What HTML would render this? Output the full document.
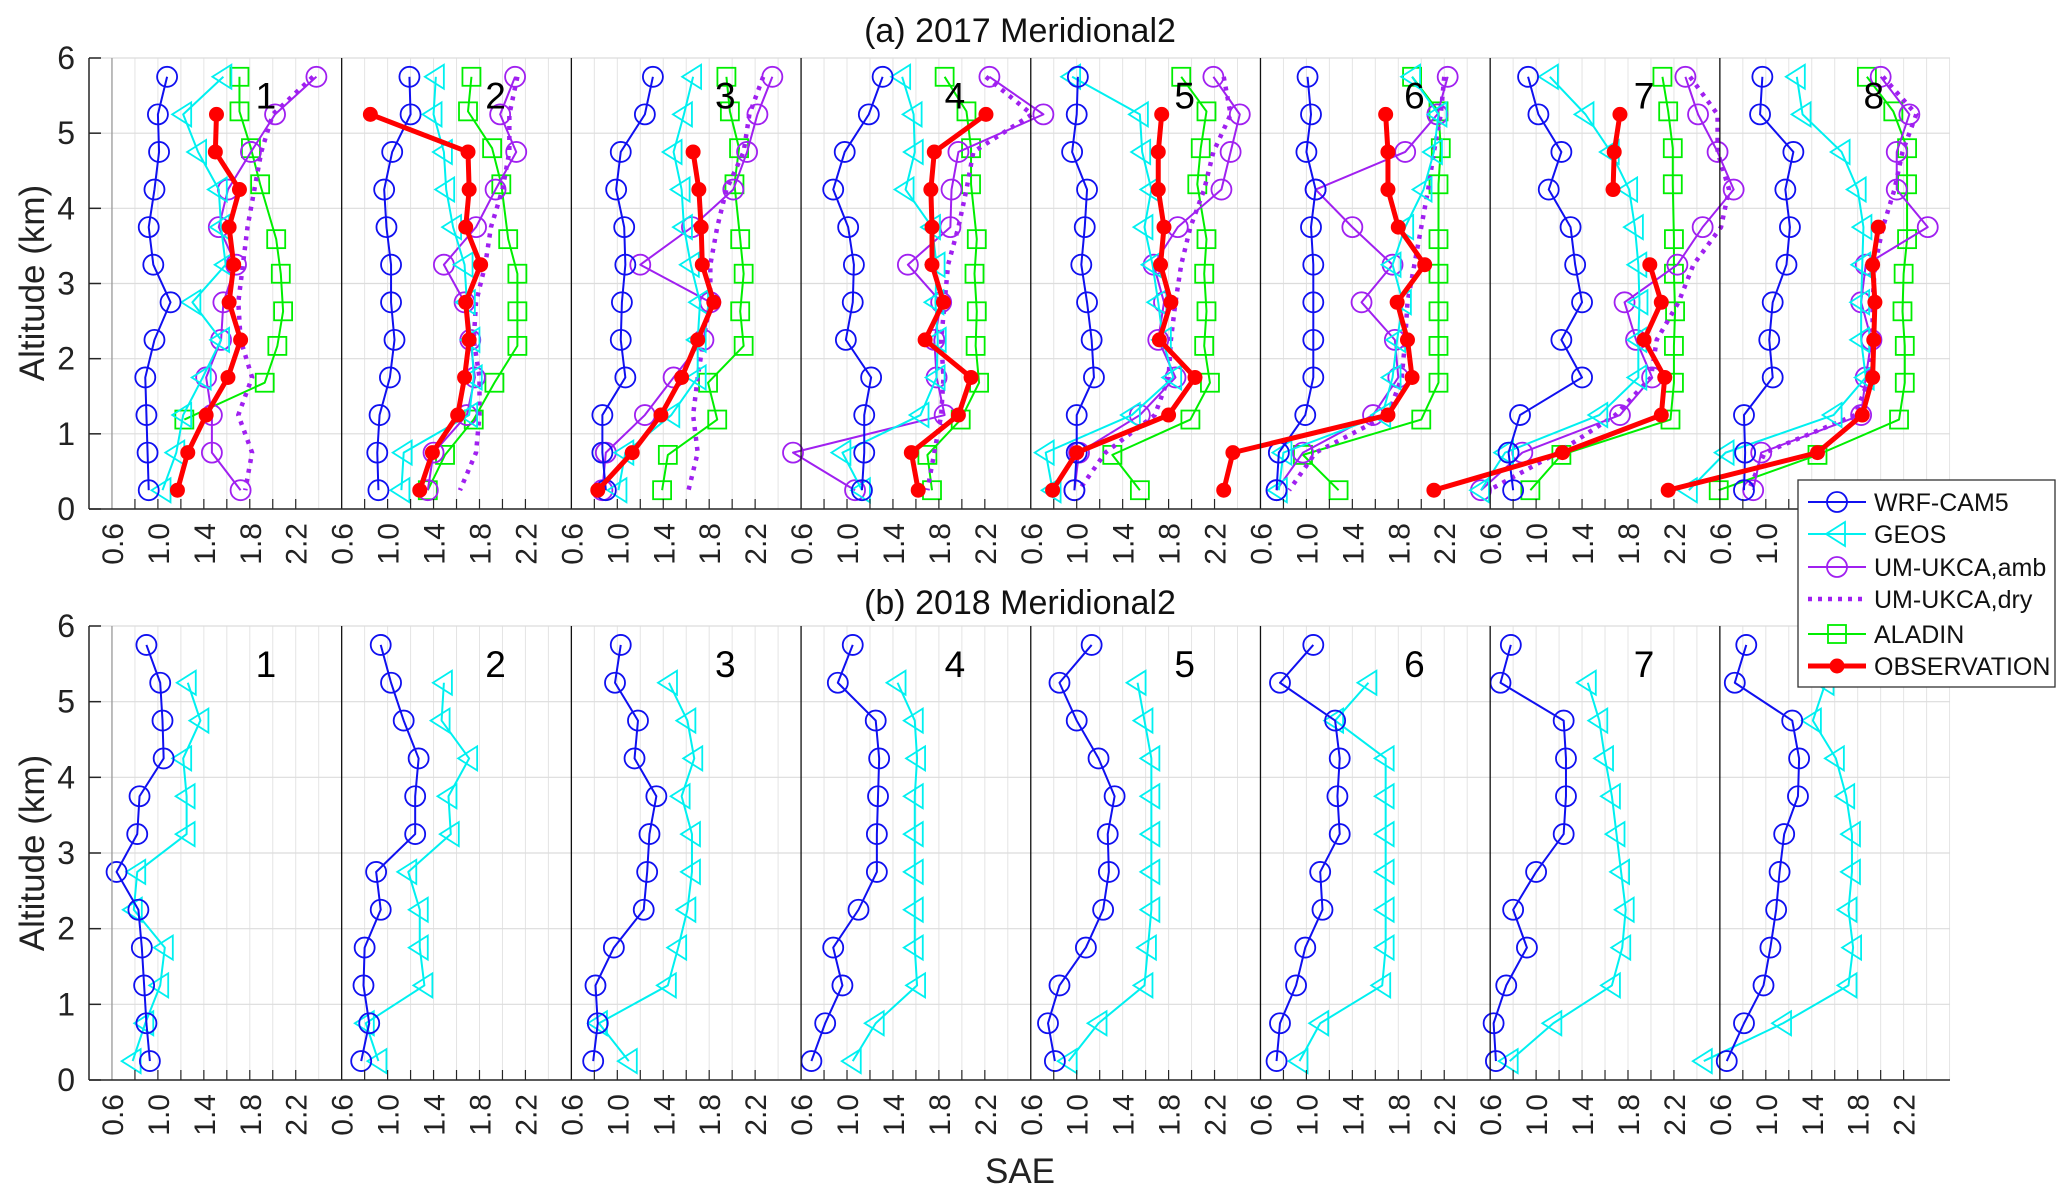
<!DOCTYPE html>
<html><head><meta charset="utf-8"><title>SAE profiles</title>
<style>
html,body{margin:0;padding:0;background:#fff;}
svg{display:block;font-family:"Liberation Sans",Arial,sans-serif;}
</style></head>
<body>
<svg id="chart" width="2067" height="1193" viewBox="0 0 2067 1193" xmlns="http://www.w3.org/2000/svg">
<rect x="0" y="0" width="2067" height="1193" fill="#fff"/>
<g id="grid"></g>
<g id="series"></g>
<g id="axes"></g>
<text x="1020" y="42" font-size="34" text-anchor="middle" fill="#111">(a) 2017 Meridional2</text>
<text x="1020" y="614" font-size="34" text-anchor="middle" fill="#111">(b) 2018 Meridional2</text>
<text transform="translate(44,283) rotate(-90)" font-size="35" text-anchor="middle" fill="#222">Altitude (km)</text>
<text transform="translate(44,853) rotate(-90)" font-size="35" text-anchor="middle" fill="#222">Altitude (km)</text>
<text x="1020" y="1183" font-size="35" text-anchor="middle" fill="#222">SAE</text>
<g id="legend"></g>
</svg>
<script>
const alt = [5.75,5.25,4.75,4.25,3.75,3.25,2.75,2.25,1.75,1.25,0.75,0.25];
const aladinAlt = [5.75,5.29,4.80,4.32,3.59,3.13,2.63,2.17,1.68,1.19,0.72,0.25];
const panelLabels = ["1","2","3","4","5","6","7","8"];
const xTicks = [0.6,1.0,1.4,1.8,2.2];
const xTickText = ["0.6","1.0","1.4","1.8","2.2"];
const yTicks = [0,1,2,3,4,5,6];

const wrf17 = [
[1.08,1.0,1.01,0.97,0.92,0.96,1.11,0.97,0.89,0.9,0.91,0.92],
[1.19,1.2,1.04,0.97,0.99,1.03,1.03,1.06,1.02,0.93,0.91,0.92],
[1.31,1.24,1.03,0.99,1.06,1.07,1.04,1.03,1.07,0.87,0.87,0.9],
[1.31,1.19,0.98,0.88,1.01,1.06,1.05,0.99,1.21,1.15,1.15,1.13],
[1.01,1.0,0.96,1.09,1.07,1.04,1.09,1.13,1.15,1.0,1.0,0.98],
[1.01,1.04,1.0,1.08,1.04,1.06,1.06,1.06,1.06,0.99,0.76,0.74],
[0.93,1.02,1.22,1.11,1.30,1.34,1.40,1.22,1.40,0.86,0.76,0.80],
[0.97,0.95,1.24,1.17,1.21,1.18,1.06,1.03,1.06,0.81,0.82,0.81]];
const geos17 = [
[1.57,1.22,1.35,1.53,1.55,1.59,1.3,1.55,1.39,1.22,1.16,1.04],
[1.42,1.40,1.49,1.51,1.57,1.67,1.69,1.73,1.75,1.71,1.14,1.12],
[1.66,1.58,1.49,1.56,1.58,1.64,1.72,1.70,1.70,1.47,1.07,1.01],
[1.48,1.58,1.59,1.51,1.74,1.78,1.77,1.79,1.78,1.64,0.96,1.13],
[0.96,1.55,1.57,1.65,1.59,1.66,1.71,1.75,1.84,1.48,0.73,0.79],
[1.92,2.15,2.11,2.02,1.86,1.75,1.84,1.79,1.75,1.66,0.8,0.76],
[1.12,1.43,1.65,1.81,1.86,1.89,1.90,1.89,1.89,1.55,0.73,0.52],
[1.27,1.32,1.66,1.80,1.85,1.84,1.83,1.83,1.87,1.59,0.65,0.33]];
const umAmb17 = [
[2.38,2.02,1.81,1.61,1.53,1.68,1.57,1.55,1.42,1.47,1.47,1.72],
[2.11,1.98,2.12,1.94,1.77,1.49,1.67,1.72,1.76,1.69,1.40,1.35],
[2.35,2.22,2.13,2.01,1.65,1.20,1.81,1.75,1.49,1.24,0.9,0.87],
[2.24,2.71,1.97,1.91,1.90,1.53,1.82,1.76,1.78,1.85,0.53,1.07],
[2.19,2.42,2.34,2.26,1.88,1.67,1.76,1.71,1.86,1.55,1.02,0.98],
[2.23,2.14,1.86,1.08,1.40,1.75,1.48,1.77,1.80,1.58,0.97,0.74],
[2.30,2.41,2.58,2.72,2.45,2.23,1.77,1.87,2.01,1.73,0.88,0.52],
[2.0,2.25,2.14,2.14,2.41,1.87,1.83,1.92,1.87,1.83,0.96,0.89]];
const umDry17 = [
[2.35,2.0,1.9,1.84,1.78,1.74,1.70,1.72,1.82,1.7,1.82,1.76],
[2.13,2.06,2.06,2.0,1.9,1.85,1.77,1.75,1.80,1.80,1.77,1.63],
[2.27,2.15,2.1,1.95,1.87,1.81,1.81,1.75,1.70,1.66,1.70,1.62],
[2.21,2.61,2.1,2.04,1.97,1.88,1.85,1.82,1.84,1.82,1.76,1.70],
[2.28,2.34,2.19,2.11,1.99,1.91,1.86,1.82,1.8,1.68,1.25,1.02],
[2.2,2.17,2.11,2.06,2.0,1.94,1.88,1.86,1.83,1.71,1.08,0.85],
[2.34,2.58,2.58,2.68,2.61,2.37,2.24,2.05,2.0,1.69,1.19,0.59],
[2.02,2.31,2.19,2.12,2.02,1.95,1.93,1.93,1.90,1.78,0.99,0.85]];
const aladin17 = [
[1.71,1.71,1.81,1.89,2.03,2.07,2.09,2.04,1.93,1.23,null,null],
[1.73,1.70,1.91,1.99,2.05,2.13,2.13,2.13,1.93,1.75,1.5,1.35],
[1.95,1.98,2.06,2.02,2.07,2.1,2.07,2.1,1.79,1.87,1.44,1.39],
[1.85,2.04,2.08,2.08,2.13,2.11,2.13,2.12,2.15,1.99,1.70,1.74],
[1.91,2.13,2.08,2.05,2.13,2.11,2.13,2.11,2.16,1.99,1.31,1.55],
[1.92,2.15,2.17,2.15,2.15,2.15,2.15,2.15,2.15,2.0,0.97,1.28],
[2.10,2.15,2.19,2.19,2.20,2.20,2.21,2.20,2.20,2.17,1.22,0.95],
[1.88,2.11,2.23,2.23,2.23,2.20,2.19,2.21,2.21,2.16,1.45,0.59]];
const obs17 = [
[null,1.51,1.50,1.71,1.62,1.66,1.62,1.72,1.61,1.42,1.26,1.17],
[null,0.85,1.70,1.71,1.68,1.81,1.68,1.71,1.67,1.61,1.39,1.28],
[null,null,1.66,1.71,1.73,1.74,1.84,1.70,1.56,1.38,1.13,0.83],
[null,2.21,1.76,1.73,1.74,1.74,1.84,1.68,2.08,1.97,1.56,1.62],
[null,1.74,1.71,1.71,1.76,1.73,1.82,1.72,2.03,1.80,1.0,0.79],
[null,1.69,1.71,1.71,1.80,2.03,1.79,1.88,1.92,1.71,0.36,0.28],
[null,1.73,1.68,1.67,null,1.99,2.09,1.94,2.12,2.09,1.23,0.11],
[null,null,null,null,1.98,1.93,1.95,1.94,1.93,1.84,1.45,0.15]];
const wrf18 = [
[0.90,1.02,1.04,1.05,0.84,0.82,0.64,0.83,0.86,0.88,0.90,0.93],
[0.94,1.03,1.14,1.27,1.24,1.24,0.90,0.94,0.80,0.79,0.84,0.77],
[1.03,0.98,1.18,1.15,1.34,1.28,1.26,1.23,0.97,0.81,0.83,0.79],
[1.05,0.92,1.25,1.28,1.27,1.26,1.26,1.10,0.88,0.96,0.81,0.69],
[1.13,0.85,1.0,1.19,1.33,1.27,1.28,1.23,1.08,0.85,0.75,0.81],
[1.06,0.77,1.25,1.29,1.27,1.29,1.12,1.14,0.99,0.91,0.77,0.74],
[0.78,0.69,1.24,1.26,1.26,1.24,1.0,0.80,0.92,0.74,0.63,0.65],
[0.83,0.73,1.23,1.29,1.28,1.16,1.12,1.09,1.04,0.98,0.81,0.66]];
const geos18 = [
[null,1.26,1.37,1.22,1.25,1.25,0.82,0.79,1.06,1.02,0.89,0.78],
[null,1.49,1.47,1.71,1.53,1.55,1.18,1.28,1.28,1.32,0.81,0.92],
[null,1.45,1.61,1.67,1.56,1.65,1.65,1.61,1.53,1.44,0.84,1.10],
[null,1.44,1.59,1.61,1.59,1.59,1.59,1.59,1.59,1.61,1.25,1.05],
[null,1.53,1.59,1.65,1.65,1.65,1.65,1.65,1.62,1.59,1.19,0.93],
[null,1.54,1.25,1.69,1.69,1.69,1.69,1.69,1.69,1.66,1.12,0.94],
[null,1.45,1.55,1.60,1.66,1.70,1.74,1.78,1.75,1.66,1.15,0.77],
[null,1.52,1.41,1.61,1.70,1.75,1.75,1.72,1.76,1.72,1.15,0.46]];

const NS = "http://www.w3.org/2000/svg";
const AX_L = 89, AX_R = 1950, PXU = 114.85;
const panelsTop = {y0: 509, y6: 58};
const panelsBot = {y0: 1080, y6: 626};
function xScale(k, v){ return AX_L + (k*2 + v - 0.4)*PXU; }
function yScale(P, km){ return P.y0 - km*(P.y0 - P.y6)/6; }
function mk(tag, attrs, parent){
  const e = document.createElementNS(NS, tag);
  for (const a in attrs) e.setAttribute(a, attrs[a]);
  parent.appendChild(e);
  return e;
}
const gGrid = document.getElementById('grid');
const gSer = document.getElementById('series');
const gAx = document.getElementById('axes');

function drawAxes(P, tag){
  for (let g = 0.4; g <= 16.6001; g += 0.2){
    const x = AX_L + (g-0.4)*PXU;
    const l = mk('line',{x1:x,x2:x,y1:P.y6,y2:P.y0,stroke:'#e4e4e4','stroke-width':1},gGrid);
    
    
  }
  for (const t of yTicks){
    const y = yScale(P,t);
    const l = mk('line',{x1:AX_L,x2:AX_R,y1:y,y2:y,stroke:'#dcdcdc','stroke-width':1.2},gGrid);
    
    
    const tk = mk('line',{x1:AX_L,x2:AX_L+12,y1:y,y2:y,stroke:'#262626','stroke-width':1.5},gAx);
    
    
    const tx = mk('text',{x:AX_L-14,y:y+11,'font-size':32,'text-anchor':'end',fill:'#222'},gAx);
    tx.textContent = String(t);
    
    
  }
  for (let k=0;k<8;k++){
    const dx = xScale(k,0.6);
    const dv = mk('line',{x1:dx,x2:dx,y1:P.y6,y2:P.y0,stroke:k===0?'#999':'#111','stroke-width':1.3},gAx);
    
    
    for (let g=0.8; g<=2.2001; g+=0.2){
      const x = xScale(k,g);
      const tk = mk('line',{x1:x,x2:x,y1:P.y0,y2:P.y0-10,stroke:'#262626','stroke-width':1.2},gAx);
      
      
    }
    xTicks.forEach((v,i)=>{
      const x = xScale(k,v);
      const tx = mk('text',{transform:`translate(${x+11},${P.y0+14}) rotate(-90)`,'font-size':30,'text-anchor':'end',fill:'#222'},gAx);
      tx.textContent = xTickText[i];
      
      
    });
    const pl = mk('text',{x:xScale(k,1.94),y:yScale(P,5.5)+13,'font-size':37,'text-anchor':'middle',fill:'#000'},gAx);
    pl.textContent = panelLabels[k];
    
    
  }
  const la = mk('line',{x1:AX_L,x2:AX_L,y1:P.y6,y2:P.y0,stroke:'#262626','stroke-width':1.5},gAx);
  
  
  const lb = mk('line',{x1:AX_L,x2:AX_R,y1:P.y0,y2:P.y0,stroke:'#262626','stroke-width':1.5},gAx);
  
  
}

function marker(type, x, y, color, parent){
  let e;
  if (type==='circle'){
    e = mk('circle',{cx:x,cy:y,r:10,fill:'none',stroke:color,'stroke-width':1.8},parent);
  } else if (type==='tri'){
    e = mk('polygon',{points:`${x-11},${y} ${x+8},${y-12} ${x+8},${y+12}`,fill:'none',stroke:color,'stroke-width':1.8},parent);
  } else if (type==='square'){
    e = mk('rect',{x:x-9,y:y-9,width:18,height:18,fill:'none',stroke:color,'stroke-width':1.8},parent);
  } else if (type==='dot'){
    e = mk('circle',{cx:x,cy:y,r:7,fill:color,stroke:color},parent);
  }
  return e;
}

function drawSeries(P, data, alts, color, width, dash, mtype, name){
  for (let k=0;k<8;k++){
    const vals = data[k];
    const g = mk('g',{},gSer);
    
    
    let seg = [];
    const segs = [];
    for (let i=0;i<vals.length;i++){
      if (vals[i]===null){ if(seg.length) segs.push(seg); seg=[]; continue; }
      seg.push([xScale(k,vals[i]), yScale(P,alts[i])]);
    }
    if (seg.length) segs.push(seg);
    for (const s of segs){
      if (s.length<2) continue;
      const pl = mk('polyline',{points:s.map(p=>p.join(',')).join(' '),fill:'none',stroke:color,'stroke-width':width,'stroke-linejoin':'round'},g);
      if (dash) { pl.setAttribute('stroke-dasharray',dash); pl.setAttribute('stroke-linecap','butt'); }
      
      
    }
    if (mtype){
      for (const s of segs) for (const p of s){
        const m = marker(mtype,p[0],p[1],color,g);
        
        
      }
    }
  }
}

drawAxes(panelsTop,'top');
drawAxes(panelsBot,'bottom');

drawSeries(panelsTop, aladin17, aladinAlt, '#00ee00', 2, null, 'square', 'aladin-2017');
drawSeries(panelsTop, umDry17, alt, '#a020f0', 4.5, '4 6', null, 'um-ukca-dry-2017');
drawSeries(panelsTop, umAmb17, alt, '#a020f0', 2, null, 'circle', 'um-ukca-amb-2017');
drawSeries(panelsTop, geos17, alt, '#00f0f0', 2, null, 'tri', 'geos-2017');
drawSeries(panelsTop, wrf17, alt, '#1010f0', 2, null, 'circle', 'wrf-cam5-2017');
drawSeries(panelsTop, obs17, alt, '#ff0000', 5, null, 'dot', 'observation-2017');
drawSeries(panelsBot, geos18, alt, '#00f0f0', 2, null, 'tri', 'geos-2018');
drawSeries(panelsBot, wrf18, alt, '#1010f0', 2, null, 'circle', 'wrf-cam5-2018');

const lg = document.getElementById('legend');
const lbox = mk('rect',{x:1798,y:480,width:257,height:207,fill:'#fff',stroke:'#333','stroke-width':1.3},lg);


const legNames = ["WRF-CAM5","GEOS","UM-UKCA,amb","UM-UKCA,dry","ALADIN","OBSERVATION"];
const legColors = ['#1010f0','#00f0f0','#a020f0','#a020f0','#00ee00','#ff0000'];
const legMarkers = ['circle','tri','circle',null,'square','dot'];
const legY = [502,534,567,599,634,666];
legNames.forEach((n,i)=>{
  const g = mk('g',{},lg);
  
  
  const y = legY[i];
  const ln = mk('line',{x1:1808,x2:1866,y1:y,y2:y,stroke:legColors[i],'stroke-width':i===5?5:(i===3?4.5:2)},g);
  if (i===3) ln.setAttribute('stroke-dasharray','4 6');
  
  
  if (legMarkers[i]){
    const m = marker(legMarkers[i],1837,y,legColors[i],g);
    
    
  }
  const t = mk('text',{x:1874,y:y+9,'font-size':25,fill:'#111'},g);
  t.textContent = n;
  
  
});
</script>
</body></html>
